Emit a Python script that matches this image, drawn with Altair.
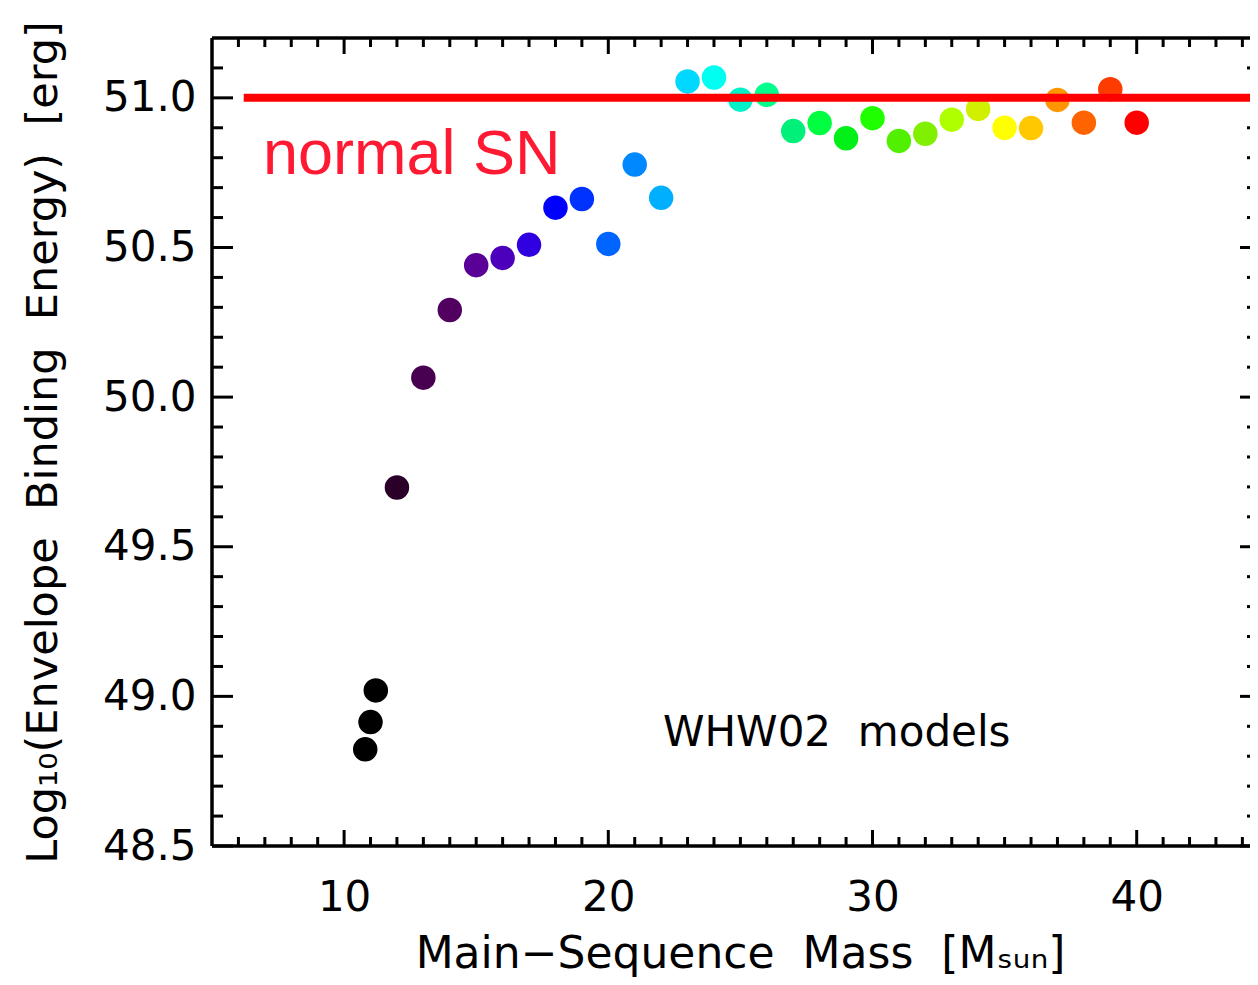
import altair as alt
import pandas as pd

# ---- data ----
masses = [10.8, 11.0, 11.2, 12, 13, 14, 15, 16, 17, 18, 19, 20, 21, 22, 23, 24,
          25, 26, 27, 28, 29, 30, 31, 32, 33, 34, 35, 36, 37, 38, 39, 40]
energies = [48.823, 48.914, 49.02, 49.698, 50.065, 50.291, 50.441, 50.465,
            50.509, 50.633, 50.662, 50.512, 50.777, 50.666, 51.055, 51.068,
            50.994, 51.01, 50.889, 50.916, 50.865, 50.932, 50.856, 50.88,
            50.927, 50.963, 50.90, 50.899, 50.993, 50.917, 51.029, 50.917]
point_colors = ["#000000", "#000000", "#000000", "#2a0028", "#480050", "#52005f",
                "#5a0096", "#4c00bc", "#3000e0", "#0000ff", "#0032ff", "#0064ff",
                "#0088ff", "#00b0ff", "#00d8ff", "#00fff0", "#00f0c8", "#00ff8c",
                "#00f07a", "#00ff40", "#00f018", "#20ff00", "#50f000", "#80f000",
                "#b0ff00", "#d0f000", "#ffff00", "#ffc800", "#ff9600", "#ff6400",
                "#ff3c00", "#ff0000"]

normal_sn_level = 51.0
line_start, line_end = 6.2, 44.4
sn_label = ["normal SN"]
sn_label_pos = ([6.93], [50.746])
model_label = ["WHW02\u00a0\u00a0models"]
model_label_pos = ([22.07], [48.833])

x_major_ticks = [10, 20, 30, 40]
x_minor_ticks = [m for m in range(6, 45) if m % 10 != 0]
y_major_ticks = [48.5, 49.0, 49.5, 50.0, 50.5, 51.0]
y_minor_ticks = [round(48.5 + 0.1 * i, 1) for i in range(1, 27) if i % 5 != 0]

# ---- layout ----
W, H = 1038, 808
PX_PER_UNIT = 26.42
X_MAX = 5 + W / PX_PER_UNIT
FONT = "DejaVu Sans"
SP = "\u00a0\u00a0"

xscale = alt.Scale(domain=[5, X_MAX], nice=False, zero=False)
yscale = alt.Scale(domain=[48.5, 51.2], nice=False, zero=False)

axis_x = alt.Axis(values=x_major_ticks, format="d", ticks=False, tickSize=0,
                  domain=False, grid=False, labelFont=FONT, labelFontSize=42,
                  labelPadding=31, labelColor="black",
                  title=f"Main−Sequence{SP}Mass{SP}[Mₛᵤₙ]", titleFont=FONT,
                  titleFontSize=44, titleFontWeight="normal", titleColor="black",
                  titleX=528, titleY=121, titleBaseline="alphabetic",
                  titleAlign="center", titleAngle=0)
axis_y = alt.Axis(values=y_major_ticks, format=".1f", ticks=False, tickSize=0,
                  domain=False, grid=False, labelFont=FONT, labelFontSize=42,
                  labelPadding=16, labelColor="black",
                  title=f"Log₁₀(Envelope{SP}Binding{SP}Energy){SP}[erg]", titleFont=FONT,
                  titleFontSize=43, titleFontWeight="normal", titleColor="black",
                  titleX=-156, titleY=H / 2, titleBaseline="alphabetic",
                  titleAlign="center", titleAngle=270)


def X(field):
    return alt.X(field, scale=xscale, axis=axis_x)


def Y(field):
    return alt.Y(field, scale=yscale, axis=axis_y)


points_df = pd.DataFrame({"mass": masses, "energy": energies, "color": point_colors})
points = alt.Chart(points_df).mark_circle(size=600, opacity=1).encode(
    x=X("mass:Q"), y=Y("energy:Q"), color=alt.Color("color:N", scale=None)
)

line_df = pd.DataFrame({"mass": [line_start], "mass2": [line_end],
                        "energy": [normal_sn_level]})
line = alt.Chart(line_df).mark_rule(color="#ff0000", strokeWidth=8).encode(
    x=X("mass:Q"), x2="mass2:Q", y=Y("energy:Q")
)

sn_df = pd.DataFrame({"mass": sn_label_pos[0], "energy": sn_label_pos[1], "t": sn_label})
sn_text = alt.Chart(sn_df).mark_text(
    align="left", baseline="alphabetic", font="Liberation Sans", fontSize=63,
    color="#ff1a33"
).encode(x=X("mass:Q"), y=Y("energy:Q"), text="t:N")

md_df = pd.DataFrame({"mass": model_label_pos[0], "energy": model_label_pos[1],
                      "t": model_label})
md_text = alt.Chart(md_df).mark_text(
    align="left", baseline="alphabetic", font=FONT, fontSize=42, color="black"
).encode(x=X("mass:Q"), y=Y("energy:Q"), text="t:N")

# ---- inward ticks; the right frame lies just past the picture's edge ----
xmaj = pd.DataFrame({"mass": x_major_ticks})
xmin = pd.DataFrame({"mass": x_minor_ticks})
ymaj = pd.DataFrame({"energy": y_major_ticks})
ymin = pd.DataFrame({"energy": y_minor_ticks})
one = pd.DataFrame({"k": [0]})

tick = dict(color="black", strokeWidth=3)
tick_layers = [
    alt.Chart(xmaj).mark_rule(**tick).encode(x=X("mass:Q"), y=alt.value(H), y2=alt.value(H - 16)),
    alt.Chart(xmaj).mark_rule(**tick).encode(x=X("mass:Q"), y=alt.value(0), y2=alt.value(16)),
    alt.Chart(xmin).mark_rule(**tick).encode(x=X("mass:Q"), y=alt.value(H), y2=alt.value(H - 9)),
    alt.Chart(xmin).mark_rule(**tick).encode(x=X("mass:Q"), y=alt.value(0), y2=alt.value(9)),
    alt.Chart(ymaj).mark_rule(**tick).encode(y=Y("energy:Q"), x=alt.value(0), x2=alt.value(21)),
    alt.Chart(ymaj).mark_rule(**tick).encode(y=Y("energy:Q"), x=alt.value(W), x2=alt.value(W - 10)),
    alt.Chart(ymin).mark_rule(**tick).encode(y=Y("energy:Q"), x=alt.value(0), x2=alt.value(11)),
    alt.Chart(ymin).mark_rule(**tick).encode(y=Y("energy:Q"), x=alt.value(W), x2=alt.value(W - 3)),
]
frame = dict(color="black", strokeWidth=3.5)
frame_layers = [
    alt.Chart(one).mark_rule(**frame).encode(x=alt.value(0), y=alt.value(0), y2=alt.value(H)),
    alt.Chart(one).mark_rule(**frame).encode(y=alt.value(0), x=alt.value(0), x2=alt.value(W)),
    alt.Chart(one).mark_rule(**frame).encode(y=alt.value(H), x=alt.value(0), x2=alt.value(W)),
]

chart = alt.layer(*tick_layers, *frame_layers, points, line, sn_text, md_text).properties(
    width=W, height=H,
    autosize=alt.AutoSizeParams(type="none"),
    padding={"left": 204, "top": 30, "right": 0, "bottom": 131},
    background="white",
).configure_view(stroke="transparent", strokeWidth=0)

chart.save("out.html", embed_options={"renderer": "svg", "actions": False})
